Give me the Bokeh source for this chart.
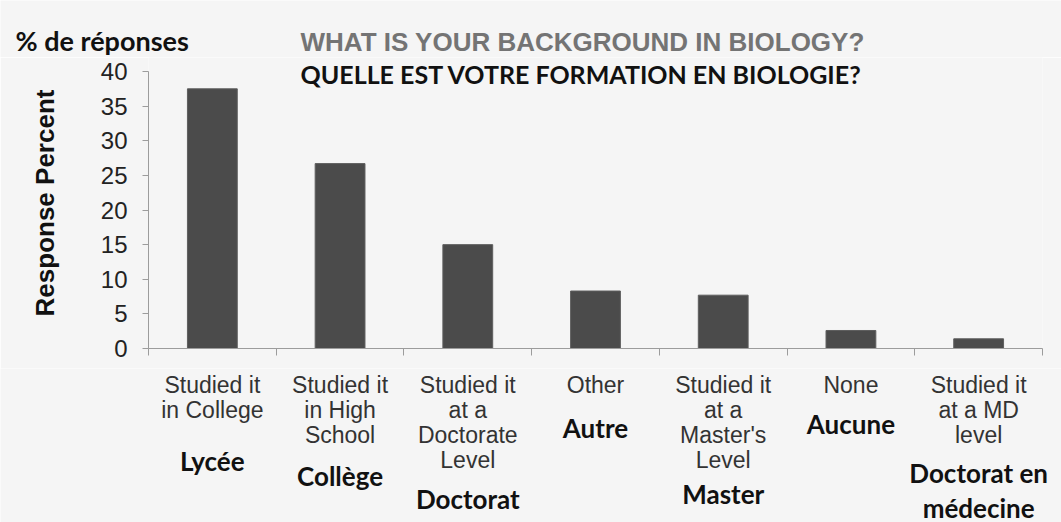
from bokeh.plotting import figure
from bokeh.models import Range1d, FixedTicker
from bokeh.layouts import column, row
from bokeh.core.properties import value
from bokeh.embed import file_html
from bokeh.resources import INLINE

# ---- data ----
en_labels = [
    ["Studied it", "in College"],
    ["Studied it", "in High", "School"],
    ["Studied it", "at a", "Doctorate", "Level"],
    ["Other"],
    ["Studied it", "at a", "Master's", "Level"],
    ["None"],
    ["Studied it", "at a MD", "level"],
]
fr_labels = [
    ["Lycée"],
    ["Collège"],
    ["Doctorat"],
    ["Autre"],
    ["Master"],
    ["Aucune"],
    ["Doctorat en", "médecine"],
]
values = [37.5, 26.7, 15.0, 8.3, 7.7, 2.6, 1.4]
y_ticks = [0, 5, 10, 15, 20, 25, 30, 35, 40]

title_en = "WHAT IS YOUR BACKGROUND IN BIOLOGY?"
title_fr = "QUELLE EST VOTRE FORMATION EN BIOLOGIE?"
y_title_fr = "% de réponses"
y_title_en = "Response Percent"

# ---- layout / style (px) ----
W, H = 1061, 522
TOP_H = 57
FRAME_L, FRAME_R = 148, 19
FRAME_W = W - FRAME_L - FRAME_R
Y40_PX = 71            # screen y of the top tick
AXIS_PX = 348          # screen y of the x axis
FRAME_H = AXIS_PX - TOP_H
GAP_B = 20
BOT_H = H - TOP_H - FRAME_H - GAP_B
en_first, en_step = 36, 25
fr_offset = [112, 127, 150, 79, 145, 75, 124]
fr_step = 35
BG = "#f5f5f5"
AXIS = "#9c9c9c"
ARIAL = "Liberation Sans"
CALIBRI = "Lato"

n = len(values)
xs = [i + 0.5 for i in range(n)]
px_per_unit_y = (AXIS_PX - Y40_PX) / (y_ticks[-1] - y_ticks[0])
y_top = y_ticks[-1] + (Y40_PX - TOP_H) / px_per_unit_y


def bare(fig):
    fig.xaxis.visible = False
    fig.yaxis.visible = False
    fig.grid.visible = False
    return fig


# ---- top strip: titles ----
top = bare(figure(width=W, height=TOP_H, x_range=Range1d(0, W), y_range=Range1d(TOP_H, 0),
                  output_backend="svg", toolbar_location=None, min_border=0,
                  background_fill_color=BG, border_fill_color=BG, outline_line_color=None))
top.text(x=[15], y=[40], text=[y_title_fr], text_align="left", text_baseline="middle",
         text_font=value(CALIBRI), text_font_style="bold", text_font_size="27px",
         text_color="#111111")
top.text(x=[300], y=[41], text=[title_en], text_align="left", text_baseline="middle",
         text_font=value(ARIAL), text_font_style="bold", text_font_size="26px",
         text_color="#747474")

# ---- main chart ----
p = figure(frame_width=FRAME_W, frame_height=FRAME_H,
           x_range=Range1d(0, n), y_range=Range1d(y_ticks[0], y_top),
           output_backend="svg", toolbar_location=None,
           min_border_left=FRAME_L, min_border_right=FRAME_R,
           min_border_top=0, min_border_bottom=GAP_B,
           background_fill_color=BG, border_fill_color=BG,
           outline_line_color=None)

p.vbar(x=xs, top=values, bottom=0, width=0.39,
       fill_color="#4b4b4b", line_color="#5e5e5e", line_width=1)

p.text(x=[0], y=[y_ticks[-1]], x_offset=300 - FRAME_L, y_offset=2, text=[title_fr],
       text_align="left", text_baseline="middle",
       text_font=value(CALIBRI), text_font_style="bold", text_font_size="25px",
       text_color="#111111")

p.xgrid.visible = False
p.ygrid.visible = False

p.xaxis.ticker = FixedTicker(ticks=list(range(n + 1)))
p.xaxis.major_label_overrides = {i: "" for i in range(n + 1)}
p.xaxis.major_label_text_font_size = "0px"
p.xaxis.major_label_standoff = 0
p.xaxis.major_tick_out = 7
p.xaxis.major_tick_in = 0
p.xaxis.minor_tick_line_color = None
p.xaxis.axis_line_color = AXIS
p.xaxis.major_tick_line_color = AXIS

p.yaxis.ticker = FixedTicker(ticks=y_ticks)
p.yaxis.bounds = (y_ticks[0], y_ticks[-1])
p.yaxis.major_label_text_font = ARIAL
p.yaxis.major_label_text_font_size = "24px"
p.yaxis.major_label_text_color = "#222222"
p.yaxis.major_label_standoff = 15
p.yaxis.major_tick_out = 6
p.yaxis.major_tick_in = 0
p.yaxis.minor_tick_line_color = None
p.yaxis.axis_line_color = AXIS
p.yaxis.major_tick_line_color = AXIS
p.yaxis.axis_label = y_title_en
p.yaxis.axis_label_text_font = ARIAL
p.yaxis.axis_label_text_font_style = "bold"
p.yaxis.axis_label_text_font_size = "26px"
p.yaxis.axis_label_text_color = "#111111"
p.yaxis.axis_label_standoff = 38

# ---- bottom strip: category labels ----
u = n / FRAME_W
bot = bare(figure(width=W, height=BOT_H,
                  x_range=Range1d(-FRAME_L * u, n + FRAME_R * u), y_range=Range1d(BOT_H, 0),
                  output_backend="svg", toolbar_location=None, min_border=0,
                  background_fill_color=BG, border_fill_color=BG, outline_line_color=None))

ex, ey, et = [], [], []
fx, fy, ft = [], [], []
for i in range(n):
    for j, line in enumerate(en_labels[i]):
        ex.append(xs[i]); ey.append(en_first + en_step * j - GAP_B); et.append(line)
    for k, line in enumerate(fr_labels[i]):
        fx.append(xs[i]); fy.append(fr_offset[i] + fr_step * k - GAP_B); ft.append(line)

bot.text(x=ex, y=ey, text=et, text_align="center", text_baseline="middle",
         text_font=value(ARIAL), text_font_size="23px", text_color="#333333")
bot.text(x=fx, y=fy, text=ft, text_align="center", text_baseline="middle",
         text_font=value(CALIBRI), text_font_style="bold", text_font_size="26px",
         text_color="#111111")

layout = column(row(top), row(p), row(bot), spacing=0)
open("out.html", "w").write(file_html(layout, INLINE))
